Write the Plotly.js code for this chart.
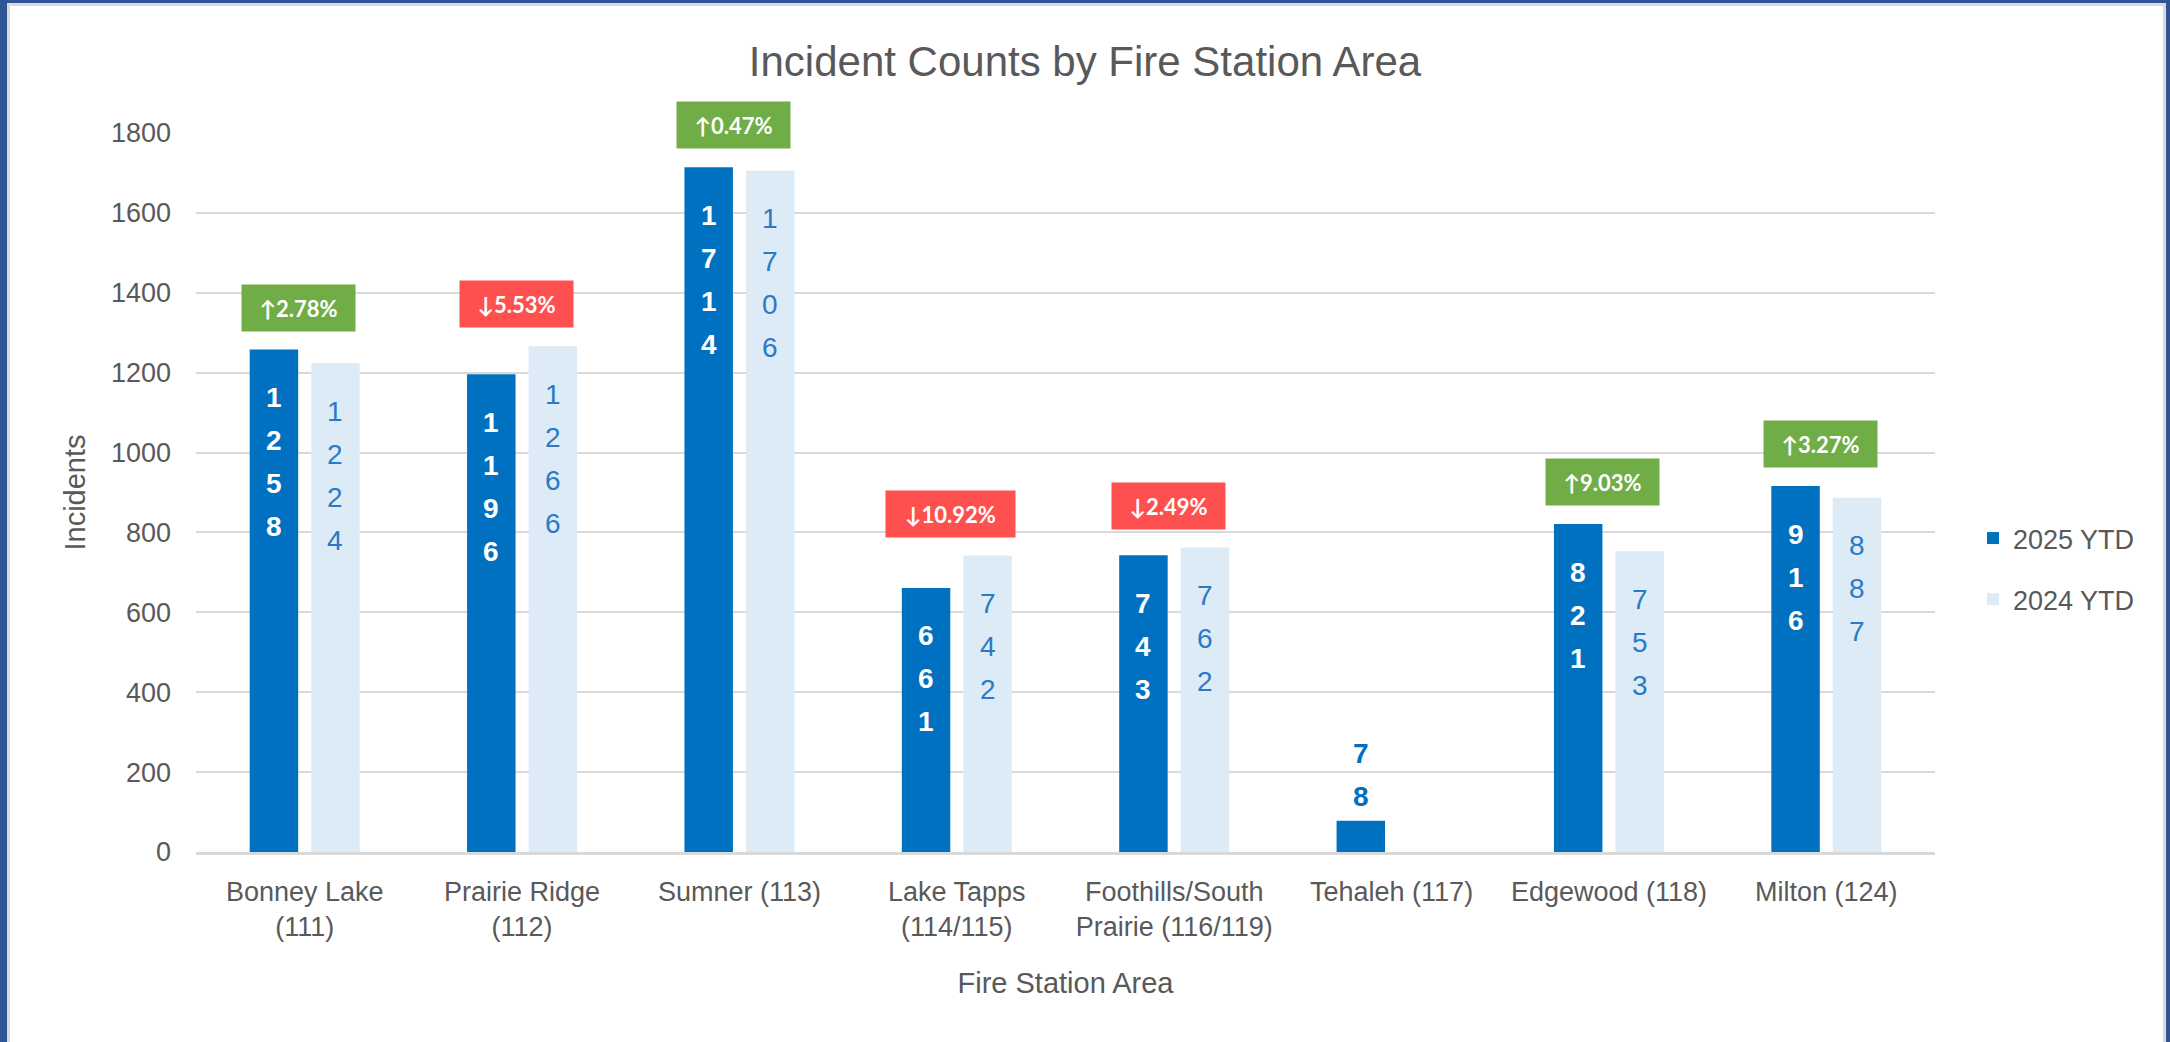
<!DOCTYPE html>
<html>
<head>
<meta charset="utf-8">
<script src="https://cdn.plot.ly/plotly-3.0.1.min.js"></script>
<style>
  html, body { margin: 0; padding: 0; background: #ffffff; }
  #wrap { position: relative; width: 2170px; height: 1042px; overflow: hidden; }
  #chart { position: absolute; left: 0; top: 0; width: 2170px; height: 1042px; }
  .bd { position: absolute; pointer-events: none; }
</style>
</head>
<body>
<div id="wrap">
  <div id="chart"></div>
  <div class="bd" style="left:0;top:0;width:7px;height:1042px;background:#2F5597;"></div>
  <div class="bd" style="left:0;top:0;width:2170px;height:3px;background:#2F5597;"></div>
  <div class="bd" style="right:0;top:0;width:4px;height:1042px;background:#2F5597;"></div>
  <div class="bd" style="left:7px;top:3px;width:3px;height:1039px;background:#D9D9D9;"></div>
  <div class="bd" style="left:7px;top:3px;width:2159px;height:3px;background:#D9D9D9;"></div>
  <div class="bd" style="right:4px;top:3px;width:3px;height:1039px;background:#D9D9D9;"></div>
</div>
<script>
// ---- data ----
const categories = ["Bonney Lake (111)", "Prairie Ridge (112)", "Sumner (113)", "Lake Tapps (114/115)",
  "Foothills/South Prairie (116/119)", "Tehaleh (117)", "Edgewood (118)", "Milton (124)"];
const tickLabels = ["Bonney Lake<br>(111)", "Prairie Ridge<br>(112)", "Sumner (113)", "Lake Tapps<br>(114/115)",
  "Foothills/South<br>Prairie (116/119)", "Tehaleh (117)", "Edgewood (118)", "Milton (124)"];
const ytd2025 = [1258, 1196, 1714, 661, 743, 78, 821, 916];
const ytd2024 = [1224, 1266, 1706, 742, 762, null, 753, 887];
const pctChange = [2.78, -5.53, 0.47, -10.92, -2.49, null, 9.03, 3.27];
const seriesNames = ["2025 YTD", "2024 YTD"];
const yTicks = [0, 200, 400, 600, 800, 1000, 1200, 1400, 1600, 1800];

// ---- layout constants ----
const W = 2170, H = 1042;
const M = {l: 196, r: 235, t: 133, b: 190};
const Y_MAX = 1800;
const BAR_W = 0.223, BAR_GAP = 0.06;
const off25 = -(BAR_W + BAR_GAP / 2), off24 = BAR_GAP / 2;
const ctr25 = off25 + BAR_W / 2, ctr24 = off24 + BAR_W / 2;
const pxPerUnit = (H - M.t - M.b) / Y_MAX;
const C25 = "#0070C0", C24 = "#DDEBF7";
const GRAY = "#595959";
const FONT = "Liberation Sans, Arial, sans-serif";

const xIdx = categories.map((_, i) => i);

const traces = [
  {type: "bar", name: seriesNames[0], x: xIdx, y: ytd2025, width: BAR_W, offset: off25,
   marker: {color: C25}, legendgroup: "a", hoverinfo: "skip"},
  {type: "bar", name: seriesNames[1], x: xIdx, y: ytd2024, width: BAR_W, offset: off24,
   marker: {color: C24}, legendgroup: "b", hoverinfo: "skip"}
];

const annotations = [];
function digitLabels(vals, center, inColor, inWeight) {
  vals.forEach((v, i) => {
    if (v === null || v === undefined) return;
    const s = String(v), n = s.length;
    const inside = v * pxPerUnit >= n * 43 + 40;
    for (let j = 0; j < n; j++) {
      annotations.push({
        x: i + center, y: v, xref: "x", yref: "y", showarrow: false,
        text: s[j], xanchor: "center", yanchor: "middle",
        yshift: inside ? -(48 + 43 * j) : (24 + 43 * (n - 1 - j)),
        font: {family: FONT, size: 28, color: inside ? inColor : C25, weight: inside ? inWeight : 700}
      });
    }
  });
}
digitLabels(ytd2025, ctr25, "#FFFFFF", 700);
digitLabels(ytd2024, ctr24, "#2A7AC6", 400);

pctChange.forEach((p, i) => {
  if (p === null) return;
  const txt = (p >= 0 ? "↑" : "↓") + Math.abs(p).toFixed(2) + "%";
  const top = Math.max(ytd2025[i] || 0, ytd2024[i] || 0);
  annotations.push({
    x: i, y: top, xref: "x", yref: "y", showarrow: false, text: txt,
    xanchor: "center", yanchor: "bottom", xshift: -6, yshift: 18,
    bgcolor: p >= 0 ? "#70AD47" : "#FF5050", borderpad: 0,
    width: 17 + 16 * txt.length, height: 46, align: "center", valign: "middle",
    font: {family: "Lato, Liberation Sans, sans-serif", size: 22, color: "#FFFFFF", weight: 700}
  });
});

const layout = {
  width: W, height: H,
  margin: M,
  paper_bgcolor: "#FFFFFF", plot_bgcolor: "#FFFFFF",
  barmode: "overlay",
  showlegend: true,
  title: {text: "Incident Counts by Fire Station Area", x: 0.5, xref: "container", xanchor: "center",
          y: 1 - 61 / H, yref: "container", yanchor: "middle",
          font: {family: FONT, size: 42, color: GRAY}},
  xaxis: {
    type: "linear", range: [-0.5, categories.length - 0.5],
    tickmode: "array", tickvals: xIdx, ticktext: tickLabels,
    showgrid: false, zeroline: false, ticks: "",
    showline: true, linecolor: "#D9D9D9", linewidth: 2.5,
    tickfont: {family: FONT, size: 27, color: GRAY},
    ticklabelstandoff: 14,
    title: {text: "Fire Station Area", font: {family: FONT, size: 29, color: GRAY}, standoff: 32}
  },
  yaxis: {
    range: [0, Y_MAX], tickmode: "array", tickvals: yTicks,
    showgrid: true, gridcolor: "#D9D9D9", gridwidth: 2,
    zeroline: false, ticks: "", showline: false,
    tickfont: {family: FONT, size: 27, color: GRAY},
    ticklabelstandoff: 24,
    title: {text: "Incidents", font: {family: FONT, size: 29, color: GRAY}, standoff: 16}
  },
  legend: {
    x: (1973 - M.l) / (W - M.l - M.r), xanchor: "left",
    y: (H - M.b - 569) / (H - M.t - M.b) , yanchor: "middle",
    font: {family: FONT, size: 27, color: GRAY},
    traceorder: "grouped", tracegroupgap: 23, itemwidth: 30,
    bgcolor: "rgba(0,0,0,0)"
  },
  annotations: annotations
};

Plotly.newPlot("chart", traces, layout, {staticPlot: true, displayModeBar: false});
</script>
</body>
</html>
